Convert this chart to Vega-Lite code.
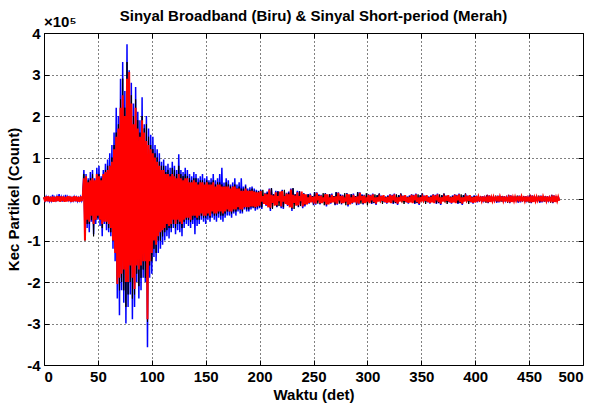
{
"$schema": "https://vega.github.io/schema/vega-lite/v6.json",
"width": 539,
"height": 332,
"autosize": {"type": "none"},
"padding": {"left": 44, "top": 33, "right": 13, "bottom": 40},
"title": {"text": "Sinyal Broadband (Biru) & Sinyal Short-period (Merah)", "font": "Liberation Sans", "fontSize": 15, "fontWeight": "bold", "color": "black", "offset": -9, "anchor": "middle"},
"config": {
"view": {"stroke": "black", "strokeWidth": 1},
"axis": {"labelFont": "Liberation Sans", "labelFontSize": 15, "labelFontWeight": "bold", "labelColor": "black", "titleFont": "Liberation Sans", "titleFontSize": 15, "titleFontWeight": "bold", "titleColor": "black", "domain": false, "gridColor": "black", "gridDash": [1, 3], "gridOpacity": 1, "gridWidth": 1, "tickColor": "black", "tickSize": -5, "tickWidth": 1}
},
"data": {"values": [
{"t":0,"b":0.03,"k":0.02,"r":0.05},{"t":1,"b":-0.04,"k":-0.03,"r":-0.06},{"t":2,"b":0.05,"k":0.03,"r":0.06},{"t":3,"b":-0.03,"k":-0.02,"r":-0.05},{"t":4,"b":0.04,"k":0.03,"r":0.07},{"t":5,"b":-0.05,"k":-0.04,"r":-0.06},{"t":6,"b":0.03,"k":0.02,"r":0.05},{"t":7,"b":-0.04,"k":-0.03,"r":-0.06},{"t":8,"b":0.1,"k":0.05,"r":0.06},{"t":9,"b":-0.05,"k":-0.03,"r":-0.07},
{"t":10,"b":0.04,"k":0.03,"r":0.05},{"t":11,"b":-0.03,"k":-0.02,"r":-0.06},{"t":12,"b":0.06,"k":0.04,"r":0.07},{"t":13,"b":-0.05,"k":-0.03,"r":-0.05},{"t":14,"b":0.12,"k":0.06,"r":0.06},{"t":15,"b":-0.04,"k":-0.03,"r":-0.07},{"t":16,"b":0.05,"k":0.04,"r":0.06},{"t":17,"b":-0.06,"k":-0.04,"r":-0.05},{"t":18,"b":0.04,"k":0.03,"r":0.06},{"t":19,"b":-0.05,"k":-0.03,"r":-0.07},
{"t":20,"b":0.1,"k":0.05,"r":0.05},{"t":21,"b":-0.04,"k":-0.03,"r":-0.06},{"t":22,"b":0.05,"k":0.03,"r":0.07},{"t":23,"b":-0.03,"k":-0.02,"r":-0.05},{"t":24,"b":0.04,"k":0.03,"r":0.06},{"t":25,"b":-0.05,"k":-0.04,"r":-0.07},{"t":26,"b":0.03,"k":0.02,"r":0.05},{"t":27,"b":-0.04,"k":-0.03,"r":-0.06},{"t":28,"b":0.05,"k":0.04,"r":0.07},{"t":29,"b":-0.03,"k":-0.02,"r":-0.05},
{"t":30,"b":0.04,"k":0.03,"r":0.06},{"t":31,"b":-0.05,"k":-0.04,"r":-0.06},{"t":32,"b":0.03,"k":0.02,"r":0.05},{"t":33,"b":-0.04,"k":-0.03,"r":-0.07},{"t":34,"b":0.05,"k":0.03,"r":0.06},{"t":35,"b":-0.04,"k":-0.03,"r":-0.05},{"t":36,"b":0.06,"k":0.04,"r":0.07},
{"t":37,"b":0.7,"k":0.6,"r":0.5},{"t":38,"b":-0.9,"k":-1.0,"r":-1.0},{"t":39,"b":0.6,"k":0.5,"r":0.55},{"t":40,"b":-0.7,"k":-0.6,"r":-0.5},{"t":41,"b":0.5,"k":0.45,"r":0.4},{"t":42,"b":-0.8,"k":-0.6,"r":-0.55},{"t":43,"b":0.65,"k":0.5,"r":0.45},{"t":44,"b":-0.55,"k":-0.5,"r":-0.4},{"t":45,"b":0.7,"k":0.6,"r":0.5},{"t":46,"b":-0.85,"k":-0.9,"r":-0.6},
{"t":47,"b":0.5,"k":0.4,"r":0.45},{"t":48,"b":-0.6,"k":-0.5,"r":-0.5},{"t":49,"b":0.75,"k":0.55,"r":0.6},{"t":50,"b":-0.5,"k":-0.45,"r":-0.4},{"t":51,"b":0.8,"k":0.6,"r":0.55},{"t":52,"b":-0.65,"k":-0.5,"r":-0.5},{"t":53,"b":0.55,"k":0.5,"r":0.45},{"t":54,"b":-0.9,"k":-0.7,"r":-0.6},{"t":55,"b":0.7,"k":0.55,"r":0.6},{"t":56,"b":-0.6,"k":-0.5,"r":-0.55},
{"t":57,"b":0.85,"k":0.7,"r":0.65},{"t":58,"b":-0.75,"k":-0.6,"r":-0.55},{"t":59,"b":0.95,"k":0.8,"r":0.7},{"t":60,"b":-0.8,"k":-0.7,"r":-0.6},{"t":61,"b":1.1,"k":0.8,"r":0.8},{"t":62,"b":-0.9,"k":-0.8,"r":-0.7},{"t":63,"b":1.3,"k":1.0,"r":0.9},{"t":64,"b":-1.2,"k":-1.0,"r":-1.0},{"t":65,"b":1.6,"k":1.3,"r":1.2},{"t":66,"b":-1.5,"k":-1.2,"r":-1.3},
{"t":67,"b":2.2,"k":1.6,"r":1.5},{"t":68,"b":-2.4,"k":-2.0,"r":-2.05},{"t":69,"b":2.0,"k":1.8,"r":1.7},{"t":70,"b":-2.8,"k":-2.2,"r":-1.9},{"t":71,"b":2.9,"k":2.4,"r":2.2},{"t":72,"b":-2.2,"k":-2.0,"r":-1.8},{"t":73,"b":3.3,"k":2.9,"r":2.5},{"t":74,"b":-2.5,"k":-2.2,"r":-1.7},{"t":75,"b":2.6,"k":2.2,"r":2.0},{"t":76,"b":-3.0,"k":-2.6,"r":-2.0},
{"t":77,"b":3.73,"k":3.3,"r":2.9},{"t":78,"b":-2.6,"k":-2.3,"r":-2.0},{"t":79,"b":3.1,"k":2.9,"r":3.06},{"t":80,"b":-2.3,"k":-2.0,"r":-1.6},{"t":81,"b":2.8,"k":2.5,"r":2.3},{"t":82,"b":-2.9,"k":-2.4,"r":-1.9},{"t":83,"b":2.3,"k":2.0,"r":1.8},{"t":84,"b":-2.6,"k":-2.3,"r":-2.17},{"t":85,"b":2.7,"k":2.4,"r":2.2},{"t":86,"b":-2.0,"k":-1.8,"r":-1.6},
{"t":87,"b":2.1,"k":1.9,"r":1.7},{"t":88,"b":-2.4,"k":-2.1,"r":-1.7},{"t":89,"b":1.9,"k":1.6,"r":1.5},{"t":90,"b":-2.2,"k":-1.9,"r":-1.6},{"t":91,"b":2.45,"k":2.0,"r":1.9},{"t":92,"b":-1.9,"k":-1.7,"r":-1.5},{"t":93,"b":1.8,"k":1.7,"r":1.6},{"t":94,"b":-2.0,"k":-1.9,"r":-1.5},{"t":95,"b":2.0,"k":1.8,"r":1.4},{"t":96,"b":-3.57,"k":-2.96,"r":-2.9},
{"t":97,"b":1.7,"k":1.5,"r":1.3},{"t":98,"b":-1.9,"k":-1.6,"r":-1.5},{"t":99,"b":1.55,"k":1.3,"r":1.2},{"t":100,"b":-1.8,"k":-1.5,"r":-1.3},{"t":101,"b":1.5,"k":1.2,"r":1.1},{"t":102,"b":-1.4,"k":-1.2,"r":-1.0},{"t":103,"b":1.3,"k":1.1,"r":1.0},{"t":104,"b":-1.5,"k":-1.3,"r":-1.1},{"t":105,"b":1.2,"k":1.0,"r":0.9},{"t":106,"b":-1.3,"k":-1.0,"r":-0.9},
{"t":107,"b":1.1,"k":0.9,"r":0.8},{"t":108,"b":-1.2,"k":-1.0,"r":-0.8},{"t":109,"b":0.9,"k":0.8,"r":0.7},{"t":110,"b":-1.1,"k":-0.9,"r":-0.75},{"t":111,"b":0.95,"k":0.8,"r":0.7},{"t":112,"b":-1.0,"k":-0.8,"r":-0.7},{"t":113,"b":0.8,"k":0.65,"r":0.6},{"t":114,"b":-0.9,"k":-0.75,"r":-0.6},{"t":115,"b":0.85,"k":0.7,"r":0.6},{"t":116,"b":-0.95,"k":-0.7,"r":-0.65},
{"t":117,"b":0.75,"k":0.6,"r":0.55},{"t":118,"b":-0.8,"k":-0.7,"r":-0.6},{"t":119,"b":0.9,"k":0.75,"r":0.6},{"t":120,"b":-0.7,"k":-0.6,"r":-0.5},{"t":121,"b":0.8,"k":0.7,"r":0.55},{"t":122,"b":-0.85,"k":-0.7,"r":-0.6},{"t":123,"b":0.7,"k":0.6,"r":0.5},{"t":124,"b":-0.75,"k":-0.6,"r":-0.5},{"t":125,"b":1.08,"k":0.8,"r":0.6},{"t":126,"b":-0.8,"k":-0.6,"r":-0.55},
{"t":127,"b":0.7,"k":0.6,"r":0.5},{"t":128,"b":-0.9,"k":-0.7,"r":-0.6},{"t":129,"b":0.65,"k":0.55,"r":0.45},{"t":130,"b":-0.7,"k":-0.55,"r":-0.5},{"t":131,"b":0.75,"k":0.6,"r":0.5},{"t":132,"b":-0.6,"k":-0.5,"r":-0.45},{"t":133,"b":0.7,"k":0.55,"r":0.5},{"t":134,"b":-0.65,"k":-0.5,"r":-0.45},{"t":135,"b":0.6,"k":0.5,"r":0.4},{"t":136,"b":-0.7,"k":-0.55,"r":-0.5},
{"t":137,"b":0.55,"k":0.45,"r":0.4},{"t":138,"b":-0.6,"k":-0.5,"r":-0.4},{"t":139,"b":0.65,"k":0.5,"r":0.45},{"t":140,"b":-0.85,"k":-0.45,"r":-0.4},{"t":141,"b":0.6,"k":0.5,"r":0.4},{"t":142,"b":-0.65,"k":-0.5,"r":-0.45},{"t":143,"b":0.5,"k":0.4,"r":0.35},{"t":144,"b":-0.6,"k":-0.5,"r":-0.4},{"t":145,"b":0.55,"k":0.45,"r":0.4},{"t":146,"b":-0.5,"k":-0.4,"r":-0.35},
{"t":147,"b":0.6,"k":0.45,"r":0.4},{"t":148,"b":-0.55,"k":-0.45,"r":-0.4},{"t":149,"b":0.5,"k":0.4,"r":0.35},{"t":150,"b":-0.6,"k":-0.45,"r":-0.4},{"t":151,"b":0.55,"k":0.45,"r":0.4},{"t":152,"b":-0.5,"k":-0.4,"r":-0.35},{"t":153,"b":0.45,"k":0.4,"r":0.35},{"t":154,"b":-0.55,"k":-0.45,"r":-0.4},{"t":155,"b":0.5,"k":0.4,"r":0.35},{"t":156,"b":-0.45,"k":-0.35,"r":-0.3},
{"t":157,"b":0.6,"k":0.45,"r":0.4},{"t":158,"b":-0.5,"k":-0.4,"r":-0.35},{"t":159,"b":0.45,"k":0.35,"r":0.3},{"t":160,"b":-0.55,"k":-0.4,"r":-0.35},{"t":161,"b":0.5,"k":0.4,"r":0.35},{"t":162,"b":-0.45,"k":-0.35,"r":-0.3},{"t":163,"b":0.6,"k":0.4,"r":0.35},{"t":164,"b":-0.5,"k":-0.4,"r":-0.3},{"t":165,"b":0.75,"k":0.35,"r":0.3},{"t":166,"b":-0.55,"k":-0.4,"r":-0.35},
{"t":167,"b":0.4,"k":0.3,"r":0.3},{"t":168,"b":-0.45,"k":-0.35,"r":-0.3},{"t":169,"b":0.5,"k":0.4,"r":0.3},{"t":170,"b":-0.4,"k":-0.3,"r":-0.25},{"t":171,"b":0.45,"k":0.35,"r":0.3},{"t":172,"b":-0.4,"k":-0.3,"r":-0.3},{"t":173,"b":0.35,"k":0.3,"r":0.25},{"t":174,"b":-0.45,"k":-0.35,"r":-0.3},{"t":175,"b":0.4,"k":0.3,"r":0.3},{"t":176,"b":-0.35,"k":-0.3,"r":-0.25},
{"t":177,"b":0.5,"k":0.35,"r":0.3},{"t":178,"b":-0.4,"k":-0.3,"r":-0.25},{"t":179,"b":0.35,"k":0.25,"r":0.25},{"t":180,"b":-0.3,"k":-0.25,"r":-0.2},{"t":181,"b":0.4,"k":0.3,"r":0.25},{"t":182,"b":-0.35,"k":-0.25,"r":-0.25},{"t":183,"b":0.5,"k":0.25,"r":0.2},{"t":184,"b":-0.35,"k":-0.3,"r":-0.25},{"t":185,"b":0.3,"k":0.25,"r":0.2},{"t":186,"b":-0.25,"k":-0.2,"r":-0.2},
{"t":187,"b":0.35,"k":0.3,"r":0.25},{"t":188,"b":-0.3,"k":-0.25,"r":-0.2},{"t":189,"b":0.25,"k":0.2,"r":0.2},{"t":190,"b":-0.3,"k":-0.25,"r":-0.2},{"t":191,"b":0.28,"k":0.22,"r":0.2},{"t":192,"b":-0.25,"k":-0.2,"r":-0.18},{"t":193,"b":0.3,"k":0.25,"r":0.2},{"t":194,"b":-0.22,"k":-0.2,"r":-0.18},{"t":195,"b":0.25,"k":0.2,"r":0.18},{"t":196,"b":-0.28,"k":-0.22,"r":-0.2},
{"t":197,"b":0.22,"k":0.18,"r":0.16},{"t":198,"b":-0.25,"k":-0.2,"r":-0.18},{"t":199,"b":0.2,"k":0.18,"r":0.16},{"t":200,"b":-0.22,"k":-0.18,"r":-0.16},
{"t":201,"b":0.22,"k":0.2,"r":0.19},{"t":202,"b":-0.24,"k":-0.2,"r":-0.06},{"t":203,"b":0.08,"k":0.22,"r":0.07},{"t":204,"b":-0.09,"k":-0.07,"r":-0.12},{"t":205,"b":0.15,"k":0.08,"r":0.13},{"t":206,"b":-0.17,"k":-0.14,"r":-0.14},{"t":207,"b":0.18,"k":0.15,"r":0.11},{"t":208,"b":-0.13,"k":-0.16,"r":-0.2},{"t":209,"b":0.25,"k":0.12,"r":0.23},{"t":210,"b":-0.29,"k":-0.23,"r":-0.21},
{"t":211,"b":0.26,"k":0.26,"r":0.1},{"t":212,"b":-0.12,"k":-0.24,"r":-0.09},{"t":213,"b":0.11,"k":0.11,"r":0.08},{"t":214,"b":-0.1,"k":-0.1,"r":-0.16},{"t":215,"b":0.2,"k":0.09,"r":0.16},{"t":216,"b":-0.2,"k":-0.18,"r":-0.15},{"t":217,"b":0.19,"k":0.18,"r":0.07},{"t":218,"b":-0.09,"k":-0.17,"r":-0.05},{"t":219,"b":0.07,"k":0.08,"r":0.18},{"t":220,"b":-0.22,"k":-0.06,"r":-0.18},
{"t":221,"b":0.22,"k":0.2,"r":0.19},{"t":222,"b":-0.24,"k":-0.2,"r":-0.06},{"t":223,"b":0.08,"k":0.22,"r":0.07},{"t":224,"b":-0.09,"k":-0.07,"r":-0.12},{"t":225,"b":0.15,"k":0.08,"r":0.13},{"t":226,"b":-0.17,"k":-0.14,"r":-0.14},{"t":227,"b":0.18,"k":0.15,"r":0.11},{"t":228,"b":-0.13,"k":-0.16,"r":-0.2},{"t":229,"b":0.25,"k":0.12,"r":0.23},{"t":230,"b":-0.29,"k":-0.23,"r":-0.21},
{"t":231,"b":0.26,"k":0.26,"r":0.1},{"t":232,"b":-0.12,"k":-0.24,"r":-0.09},{"t":233,"b":0.11,"k":0.11,"r":0.08},{"t":234,"b":-0.1,"k":-0.1,"r":-0.16},{"t":235,"b":0.2,"k":0.09,"r":0.16},{"t":236,"b":-0.2,"k":-0.18,"r":-0.15},{"t":237,"b":0.19,"k":0.18,"r":0.07},{"t":238,"b":-0.09,"k":-0.17,"r":-0.05},{"t":239,"b":0.07,"k":0.08,"r":0.18},{"t":240,"b":-0.22,"k":-0.06,"r":-0.18},
{"t":241,"b":0.14,"k":0.13,"r":0.12},{"t":242,"b":-0.18,"k":-0.14,"r":-0.13},{"t":243,"b":0.04,"k":0.05,"r":0.11},{"t":244,"b":-0.08,"k":-0.1,"r":-0.13},{"t":245,"b":0.12,"k":0.11,"r":0.04},{"t":246,"b":-0.11,"k":-0.09,"r":-0.09},{"t":247,"b":0.13,"k":0.06,"r":0.1},{"t":248,"b":-0.06,"k":-0.04,"r":-0.08},{"t":249,"b":0.07,"k":0.07,"r":0.05},{"t":250,"b":-0.15,"k":-0.13,"r":-0.04},
{"t":251,"b":0.17,"k":0.16,"r":0.06},{"t":252,"b":-0.14,"k":-0.04,"r":-0.11},{"t":253,"b":0.16,"k":0.08,"r":0.15},{"t":254,"b":-0.06,"k":-0.11,"r":-0.03},{"t":255,"b":0.11,"k":0.09,"r":0.07},{"t":256,"b":-0.13,"k":-0.11,"r":-0.1},{"t":257,"b":0.1,"k":0.05,"r":0.08},{"t":258,"b":-0.06,"k":-0.06,"r":-0.1},{"t":259,"b":0.05,"k":0.14,"r":0.04},{"t":260,"b":-0.08,"k":-0.15,"r":-0.06},
{"t":261,"b":0.14,"k":0.13,"r":0.12},{"t":262,"b":-0.18,"k":-0.14,"r":-0.13},{"t":263,"b":0.04,"k":0.05,"r":0.11},{"t":264,"b":-0.08,"k":-0.1,"r":-0.13},{"t":265,"b":0.12,"k":0.11,"r":0.04},{"t":266,"b":-0.11,"k":-0.09,"r":-0.09},{"t":267,"b":0.13,"k":0.06,"r":0.1},{"t":268,"b":-0.06,"k":-0.04,"r":-0.08},{"t":269,"b":0.07,"k":0.07,"r":0.05},{"t":270,"b":-0.15,"k":-0.13,"r":-0.04},
{"t":271,"b":0.17,"k":0.16,"r":0.06},{"t":272,"b":-0.14,"k":-0.04,"r":-0.11},{"t":273,"b":0.16,"k":0.08,"r":0.15},{"t":274,"b":-0.06,"k":-0.11,"r":-0.03},{"t":275,"b":0.11,"k":0.09,"r":0.07},{"t":276,"b":-0.13,"k":-0.11,"r":-0.1},{"t":277,"b":0.1,"k":0.05,"r":0.08},{"t":278,"b":-0.06,"k":-0.06,"r":-0.1},{"t":279,"b":0.05,"k":0.14,"r":0.04},{"t":280,"b":-0.08,"k":-0.15,"r":-0.06},
{"t":281,"b":0.14,"k":0.13,"r":0.12},{"t":282,"b":-0.18,"k":-0.14,"r":-0.13},{"t":283,"b":0.04,"k":0.05,"r":0.11},{"t":284,"b":-0.08,"k":-0.1,"r":-0.13},{"t":285,"b":0.12,"k":0.11,"r":0.04},{"t":286,"b":-0.11,"k":-0.09,"r":-0.09},{"t":287,"b":0.13,"k":0.06,"r":0.1},{"t":288,"b":-0.06,"k":-0.04,"r":-0.08},{"t":289,"b":0.07,"k":0.07,"r":0.05},{"t":290,"b":-0.15,"k":-0.13,"r":-0.04},
{"t":291,"b":0.17,"k":0.16,"r":0.06},{"t":292,"b":-0.14,"k":-0.04,"r":-0.11},{"t":293,"b":0.16,"k":0.08,"r":0.15},{"t":294,"b":-0.06,"k":-0.11,"r":-0.03},{"t":295,"b":0.11,"k":0.09,"r":0.07},{"t":296,"b":-0.13,"k":-0.11,"r":-0.1},{"t":297,"b":0.1,"k":0.05,"r":0.08},{"t":298,"b":-0.06,"k":-0.06,"r":-0.1},{"t":299,"b":0.05,"k":0.14,"r":0.04},{"t":300,"b":-0.08,"k":-0.15,"r":-0.06},
{"t":301,"b":0.11,"k":0.1,"r":0.1},{"t":302,"b":-0.07,"k":-0.08,"r":-0.1},{"t":303,"b":0.1,"k":0.04,"r":0.08},{"t":304,"b":-0.12,"k":-0.1,"r":-0.03},{"t":305,"b":0.13,"k":0.06,"r":0.11},{"t":306,"b":-0.1,"k":-0.09,"r":-0.07},{"t":307,"b":0.04,"k":0.11,"r":0.04},{"t":308,"b":-0.14,"k":-0.11,"r":-0.11},{"t":309,"b":0.09,"k":0.09,"r":0.04},{"t":310,"b":-0.04,"k":-0.03,"r":-0.06},
{"t":311,"b":0.13,"k":0.13,"r":0.05},{"t":312,"b":-0.04,"k":-0.08,"r":-0.03},{"t":313,"b":0.08,"k":0.04,"r":0.07},{"t":314,"b":-0.06,"k":-0.12,"r":-0.04},{"t":315,"b":0.03,"k":0.04,"r":0.09},{"t":316,"b":-0.08,"k":-0.07,"r":-0.07},{"t":317,"b":0.06,"k":0.05,"r":0.04},{"t":318,"b":-0.11,"k":-0.03,"r":-0.09},{"t":319,"b":0.09,"k":0.07,"r":0.05},{"t":320,"b":-0.05,"k":-0.05,"r":-0.08},
{"t":321,"b":0.11,"k":0.1,"r":0.1},{"t":322,"b":-0.07,"k":-0.08,"r":-0.1},{"t":323,"b":0.1,"k":0.04,"r":0.08},{"t":324,"b":-0.12,"k":-0.1,"r":-0.03},{"t":325,"b":0.13,"k":0.06,"r":0.11},{"t":326,"b":-0.1,"k":-0.09,"r":-0.07},{"t":327,"b":0.04,"k":0.11,"r":0.04},{"t":328,"b":-0.14,"k":-0.11,"r":-0.11},{"t":329,"b":0.09,"k":0.09,"r":0.04},{"t":330,"b":-0.04,"k":-0.03,"r":-0.06},
{"t":331,"b":0.13,"k":0.13,"r":0.05},{"t":332,"b":-0.04,"k":-0.08,"r":-0.03},{"t":333,"b":0.08,"k":0.04,"r":0.07},{"t":334,"b":-0.06,"k":-0.12,"r":-0.04},{"t":335,"b":0.03,"k":0.04,"r":0.09},{"t":336,"b":-0.08,"k":-0.07,"r":-0.07},{"t":337,"b":0.06,"k":0.05,"r":0.04},{"t":338,"b":-0.11,"k":-0.03,"r":-0.09},{"t":339,"b":0.09,"k":0.07,"r":0.05},{"t":340,"b":-0.05,"k":-0.05,"r":-0.08},
{"t":341,"b":0.11,"k":0.1,"r":0.1},{"t":342,"b":-0.07,"k":-0.08,"r":-0.1},{"t":343,"b":0.1,"k":0.04,"r":0.08},{"t":344,"b":-0.12,"k":-0.1,"r":-0.03},{"t":345,"b":0.13,"k":0.06,"r":0.11},{"t":346,"b":-0.1,"k":-0.09,"r":-0.07},{"t":347,"b":0.04,"k":0.11,"r":0.04},{"t":348,"b":-0.14,"k":-0.11,"r":-0.11},{"t":349,"b":0.09,"k":0.09,"r":0.04},{"t":350,"b":-0.04,"k":-0.03,"r":-0.06},
{"t":351,"b":0.13,"k":0.13,"r":0.05},{"t":352,"b":-0.04,"k":-0.08,"r":-0.03},{"t":353,"b":0.08,"k":0.04,"r":0.07},{"t":354,"b":-0.06,"k":-0.12,"r":-0.04},{"t":355,"b":0.03,"k":0.04,"r":0.09},{"t":356,"b":-0.08,"k":-0.07,"r":-0.07},{"t":357,"b":0.06,"k":0.05,"r":0.04},{"t":358,"b":-0.11,"k":-0.03,"r":-0.09},{"t":359,"b":0.09,"k":0.07,"r":0.05},{"t":360,"b":-0.05,"k":-0.05,"r":-0.08},
{"t":361,"b":0.11,"k":0.1,"r":0.1},{"t":362,"b":-0.07,"k":-0.08,"r":-0.1},{"t":363,"b":0.1,"k":0.04,"r":0.08},{"t":364,"b":-0.12,"k":-0.1,"r":-0.03},{"t":365,"b":0.13,"k":0.06,"r":0.11},{"t":366,"b":-0.1,"k":-0.09,"r":-0.07},{"t":367,"b":0.04,"k":0.11,"r":0.04},{"t":368,"b":-0.14,"k":-0.11,"r":-0.11},{"t":369,"b":0.09,"k":0.09,"r":0.04},{"t":370,"b":-0.04,"k":-0.03,"r":-0.06},
{"t":371,"b":0.13,"k":0.13,"r":0.05},{"t":372,"b":-0.04,"k":-0.08,"r":-0.03},{"t":373,"b":0.08,"k":0.04,"r":0.07},{"t":374,"b":-0.06,"k":-0.12,"r":-0.04},{"t":375,"b":0.03,"k":0.04,"r":0.09},{"t":376,"b":-0.08,"k":-0.07,"r":-0.07},{"t":377,"b":0.06,"k":0.05,"r":0.04},{"t":378,"b":-0.11,"k":-0.03,"r":-0.09},{"t":379,"b":0.09,"k":0.07,"r":0.05},{"t":380,"b":-0.05,"k":-0.05,"r":-0.08},
{"t":381,"b":0.11,"k":0.1,"r":0.1},{"t":382,"b":-0.07,"k":-0.08,"r":-0.1},{"t":383,"b":0.1,"k":0.04,"r":0.08},{"t":384,"b":-0.12,"k":-0.1,"r":-0.03},{"t":385,"b":0.13,"k":0.06,"r":0.11},{"t":386,"b":-0.1,"k":-0.09,"r":-0.07},{"t":387,"b":0.04,"k":0.11,"r":0.04},{"t":388,"b":-0.14,"k":-0.11,"r":-0.11},{"t":389,"b":0.09,"k":0.09,"r":0.04},{"t":390,"b":-0.04,"k":-0.03,"r":-0.06},
{"t":391,"b":0.13,"k":0.13,"r":0.05},{"t":392,"b":-0.04,"k":-0.08,"r":-0.03},{"t":393,"b":0.08,"k":0.04,"r":0.07},{"t":394,"b":-0.06,"k":-0.12,"r":-0.04},{"t":395,"b":0.03,"k":0.04,"r":0.09},{"t":396,"b":-0.08,"k":-0.07,"r":-0.07},{"t":397,"b":0.06,"k":0.05,"r":0.04},{"t":398,"b":-0.11,"k":-0.03,"r":-0.09},{"t":399,"b":0.09,"k":0.07,"r":0.05},{"t":400,"b":-0.05,"k":-0.05,"r":-0.08},
{"t":401,"b":0.08,"k":0.07,"r":0.07},{"t":402,"b":-0.08,"k":-0.02,"r":-0.06},{"t":403,"b":0.02,"k":0.03,"r":0.06},{"t":404,"b":-0.03,"k":-0.06,"r":-0.02},{"t":405,"b":0.07,"k":0.06,"r":0.03},{"t":406,"b":-0.07,"k":-0.06,"r":-0.05},{"t":407,"b":0.07,"k":0.03,"r":0.06},{"t":408,"b":-0.04,"k":-0.04,"r":-0.06},{"t":409,"b":0.04,"k":0.04,"r":0.03},{"t":410,"b":-0.04,"k":-0.09,"r":-0.03},
{"t":411,"b":0.1,"k":0.09,"r":0.04},{"t":412,"b":-0.1,"k":-0.08,"r":-0.08},{"t":413,"b":0.09,"k":0.04,"r":0.08},{"t":414,"b":-0.05,"k":-0.06,"r":-0.07},{"t":415,"b":0.06,"k":0.05,"r":0.04},{"t":416,"b":-0.06,"k":-0.05,"r":-0.05},{"t":417,"b":0.06,"k":0.03,"r":0.05},{"t":418,"b":-0.03,"k":-0.03,"r":-0.04},{"t":419,"b":0.03,"k":0.08,"r":0.03},{"t":420,"b":-0.09,"k":-0.07,"r":-0.02},
{"t":421,"b":0.08,"k":0.07,"r":0.07},{"t":422,"b":-0.08,"k":-0.02,"r":-0.06},{"t":423,"b":0.02,"k":0.03,"r":0.06},{"t":424,"b":-0.03,"k":-0.06,"r":-0.02},{"t":425,"b":0.07,"k":0.06,"r":0.03},{"t":426,"b":-0.07,"k":-0.06,"r":-0.05},{"t":427,"b":0.07,"k":0.03,"r":0.06},{"t":428,"b":-0.04,"k":-0.04,"r":-0.06},{"t":429,"b":0.04,"k":0.04,"r":0.03},{"t":430,"b":-0.04,"k":-0.09,"r":-0.03},
{"t":431,"b":0.1,"k":0.09,"r":0.04},{"t":432,"b":-0.1,"k":-0.08,"r":-0.08},{"t":433,"b":0.09,"k":0.04,"r":0.08},{"t":434,"b":-0.05,"k":-0.06,"r":-0.07},{"t":435,"b":0.06,"k":0.05,"r":0.04},{"t":436,"b":-0.06,"k":-0.05,"r":-0.05},{"t":437,"b":0.06,"k":0.03,"r":0.05},{"t":438,"b":-0.03,"k":-0.03,"r":-0.04},{"t":439,"b":0.03,"k":0.08,"r":0.03},{"t":440,"b":-0.09,"k":-0.07,"r":-0.02},
{"t":441,"b":0.08,"k":0.07,"r":0.07},{"t":442,"b":-0.08,"k":-0.02,"r":-0.06},{"t":443,"b":0.02,"k":0.03,"r":0.06},{"t":444,"b":-0.03,"k":-0.06,"r":-0.02},{"t":445,"b":0.07,"k":0.06,"r":0.03},{"t":446,"b":-0.07,"k":-0.06,"r":-0.05},{"t":447,"b":0.07,"k":0.03,"r":0.06},{"t":448,"b":-0.04,"k":-0.04,"r":-0.06},{"t":449,"b":0.04,"k":0.04,"r":0.03},{"t":450,"b":-0.04,"k":-0.09,"r":-0.03},
{"t":451,"b":0.1,"k":0.09,"r":0.04},{"t":452,"b":-0.1,"k":-0.08,"r":-0.08},{"t":453,"b":0.09,"k":0.04,"r":0.08},{"t":454,"b":-0.05,"k":-0.06,"r":-0.07},{"t":455,"b":0.06,"k":0.05,"r":0.04},{"t":456,"b":-0.06,"k":-0.05,"r":-0.05},{"t":457,"b":0.06,"k":0.03,"r":0.05},{"t":458,"b":-0.03,"k":-0.03,"r":-0.04},{"t":459,"b":0.03,"k":0.08,"r":0.03},{"t":460,"b":-0.09,"k":-0.07,"r":-0.02},
{"t":461,"b":0.08,"k":0.07,"r":0.07},{"t":462,"b":-0.08,"k":-0.02,"r":-0.06},{"t":463,"b":0.02,"k":0.03,"r":0.06},{"t":464,"b":-0.03,"k":-0.06,"r":-0.02},{"t":465,"b":0.07,"k":0.06,"r":0.03},{"t":466,"b":-0.07,"k":-0.06,"r":-0.05},{"t":467,"b":0.07,"k":0.03,"r":0.06},{"t":468,"b":-0.04,"k":-0.04,"r":-0.06},{"t":469,"b":0.04,"k":0.04,"r":0.03},{"t":470,"b":-0.04,"k":-0.09,"r":-0.03},
{"t":471,"b":0.1,"k":0.09,"r":0.04},{"t":472,"b":-0.1,"k":-0.08,"r":-0.08},{"t":473,"b":0.09,"k":0.04,"r":0.08},{"t":474,"b":-0.05,"k":-0.06,"r":-0.07},{"t":475,"b":0.06,"k":0.05,"r":0.04},{"t":476,"b":-0.06,"k":-0.05,"r":-0.05},{"t":477,"b":0.06,"k":0.03,"r":0.05},{"t":478,"b":-0.03,"k":-0.03,"r":-0.04}
]},
"resolve": {"axis": {"x": "independent", "y": "independent"}},
"layer": [
{"mark": {"type": "line", "color": "#0000ff", "strokeWidth": 1.5, "interpolate": "linear"},
 "encoding": {
  "x": {"field": "t", "type": "quantitative", "scale": {"domain": [0, 500], "nice": false, "zero": false},
        "axis": {"orient": "bottom", "values": [0,50,100,150,200,250,300,350,400,450,500], "grid": true, "title": "Waktu (det)", "labelPadding": 9, "titlePadding": 3, "labelExpr": "'' + datum.value"}},
  "y": {"field": "b", "type": "quantitative", "scale": {"domain": [-4, 4], "nice": false, "zero": false},
        "axis": {"orient": "left", "values": [-4,-3,-2,-1,0,1,2,3,4], "grid": true, "title": "Kec Partikel (Count)", "labelPadding": 9, "titlePadding": 5, "labelExpr": "'' + datum.value"}}
 }},
{"mark": {"type": "line", "color": "#000000", "strokeWidth": 1},
 "encoding": {
  "x": {"field": "t", "type": "quantitative", "axis": {"orient": "top", "values": [0,50,100,150,200,250,300,350,400,450,500], "grid": false, "labels": false, "title": null}},
  "y": {"field": "k", "type": "quantitative", "axis": {"orient": "right", "values": [-4,-3,-2,-1,0,1,2,3,4], "grid": false, "labels": false, "title": null}}
 }},
{"mark": {"type": "line", "color": "#ff0000", "strokeWidth": 2},
 "encoding": {
  "x": {"field": "t", "type": "quantitative", "axis": null},
  "y": {"field": "r", "type": "quantitative", "axis": null}
 }},
{"data": {"values": [{"t": 0, "v": 4, "s": "×10⁵"}]},
 "mark": {"type": "text", "align": "left", "baseline": "alphabetic", "dx": 0, "dy": -6, "font": "Liberation Sans", "fontSize": 15, "fontWeight": "bold", "color": "black"},
 "encoding": {
  "x": {"field": "t", "type": "quantitative", "axis": null},
  "y": {"field": "v", "type": "quantitative", "axis": null},
  "text": {"field": "s"}
 }}
]
}
